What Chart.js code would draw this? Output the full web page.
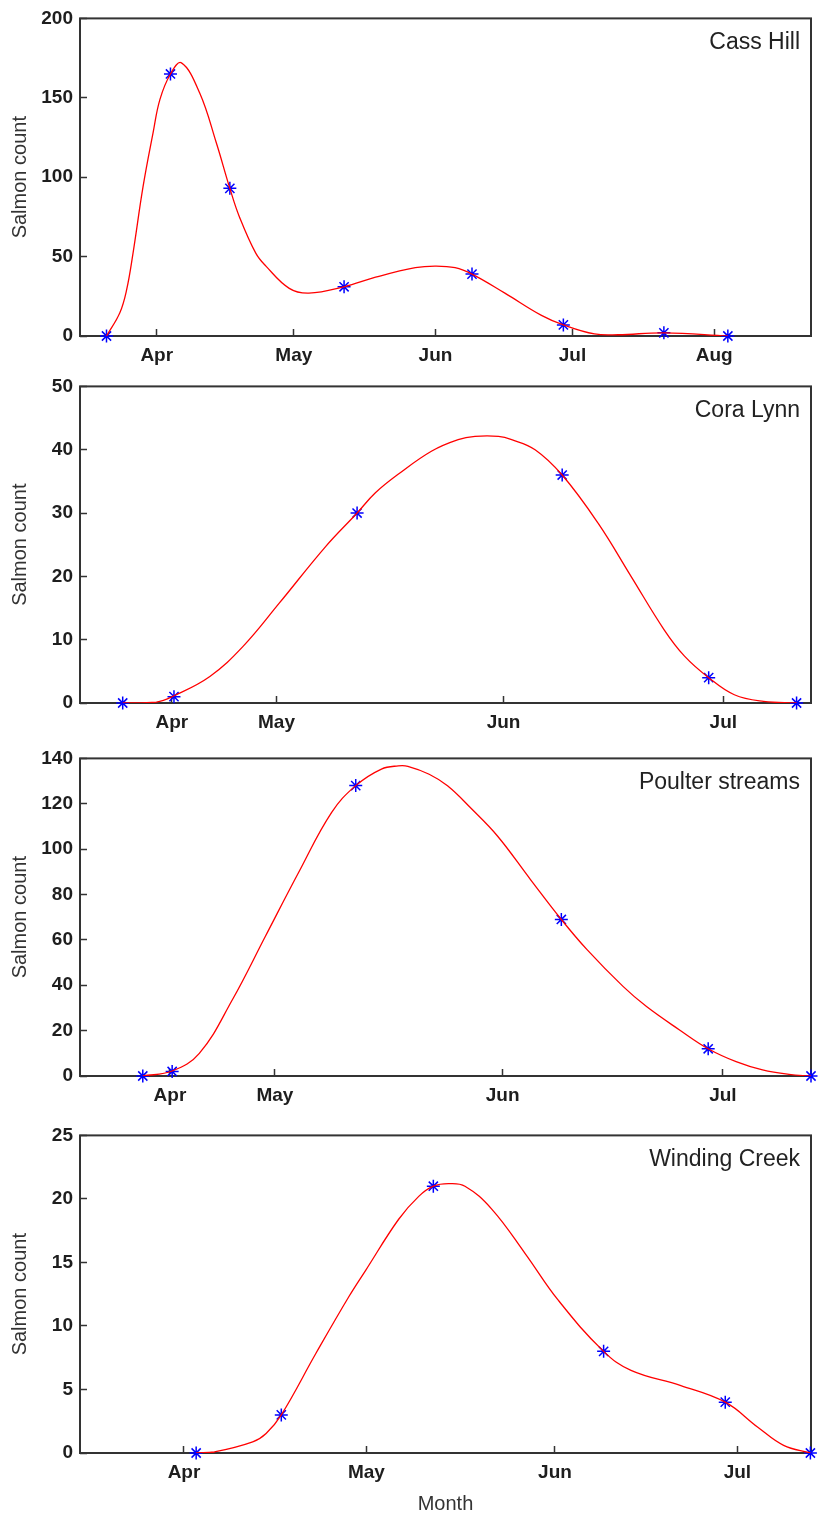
<!DOCTYPE html>
<html>
<head>
<meta charset="utf-8">
<script src="https://cdn.jsdelivr.net/npm/chart.js@4.4.0/dist/chart.umd.min.js"></script>
<style>
  body { margin: 0; background: #fff; }
  #wrap { position: relative; width: 819px; height: 1516px; overflow: hidden; }
  #wrap canvas { position: absolute; left: 0; }
</style>
</head>
<body>
<div id="wrap"></div>
<script>
// x values are day of year (1 Jan = 0, 1 Apr = 90)
var siteNames = ['Cass Hill', 'Cora Lynn', 'Poulter streams', 'Winding Creek'];

// Cass Hill - observed counts
var cassDays   = [79, 93, 106, 131, 159, 179, 201, 215];
var cassCounts = [0, 165, 93, 31, 39, 7, 2, 0];
// Cass Hill - fitted curve
var cassCurveDays   = [79, 81.9, 83.4, 84.8, 87, 89.2, 90.7, 93, 95.4, 99.4, 103, 106, 108.1, 111.7, 113.9, 119, 123.3, 131, 137.9, 146.6, 150.9, 155.3, 159, 166.2, 174.2, 179, 185.8, 191, 201, 215];
var cassCurveCounts = [0, 14.5, 29, 52, 94, 128, 149, 165, 172, 153, 122, 93, 75, 52, 44, 30, 27, 31, 37, 43, 44, 43, 39, 27, 13, 7, 1.3, 0.8, 2, 0];

// Cora Lynn
var coraDays   = [99, 106, 131, 159, 179, 191];
var coraCounts = [0, 1, 30, 36, 4, 0];
var coraCurveDays   = [99, 103.6, 106, 110.9, 115.4, 120.4, 126.7, 131, 133.5, 136.7, 141.2, 144.8, 147.1, 150.3, 152.1, 155.3, 159, 163.9, 168.4, 172.9, 175.7, 179, 182.5, 186.5, 191];
var coraCurveCounts = [0, 0.15, 1.15, 4.2, 8.9, 15.8, 24.7, 30, 33.2, 36.2, 39.8, 41.6, 42.1, 42.1, 41.6, 40, 36, 28.4, 20, 11.6, 7.4, 4, 1.3, 0.25, 0];

// Poulter streams
var poulterDays   = [102, 106, 131, 159, 179, 193];
var poulterCounts = [0, 2, 128, 69, 12, 0];
var poulterCurveDays   = [102, 106, 109.7, 114.2, 118.7, 123.2, 127.7, 131, 134.5, 136.8, 138.1, 141, 143.5, 146.7, 150.3, 154.8, 159, 162.5, 167.4, 170.6, 175.1, 179, 182.8, 186.4, 190, 193];
var poulterCurveCounts = [0, 2.2, 10, 33.6, 61.6, 89.6, 116.1, 128, 135.3, 136.7, 136.5, 133, 127.9, 118, 105.8, 86.6, 69, 55.7, 39.5, 30.6, 20.3, 12, 6.3, 2.65, 0.7, 0];

// Winding Creek
var windingDays   = [92, 106, 131, 159, 179, 193];
var windingCounts = [0, 3, 21, 8, 4, 0];
var windingCurveDays   = [92, 95, 101.3, 103.5, 106, 111.7, 117.1, 119.9, 125.3, 128.6, 131, 133.5, 136.2, 140.6, 146.1, 151.5, 159, 163.5, 171.7, 179, 184.3, 188.6, 193];
var windingCurveCounts = [0, 0.08, 0.87, 1.53, 3, 7.85, 12.3, 14.4, 18.4, 20.2, 21, 21.2, 21, 19.2, 15.7, 12.05, 8, 6.5, 5.3, 4, 2.05, 0.6, 0];

// month ticks
var cassTickDays = [90, 120, 151, 181, 212];
var cassTickLabels = ['Apr', 'May', 'Jun', 'Jul', 'Aug'];
var coraTickDays = [105.7, 120, 151, 181];
var poulterTickDays = [105.7, 120, 151, 181];
var windingTickDays = [90, 120, 151, 181];
var shortTickLabels = ['Apr', 'May', 'Jun', 'Jul'];

// axis ranges
var xRanges = [[73.2, 233.2], [93.17, 192.97], [93.45, 193], [72.9, 193.1]];
var yMax = [200, 50, 140, 25];
var yStep = [50, 10, 20, 5];

// panel layout (pixels)
var plotTop = [19, 387, 759, 1136];
var plotBottom = [336, 703, 1076, 1453];
var plotRight = [814, 814, 816, 814];
var xAxisH = [45, 45, 45, 63];
var padTop = 18;
var areaTop = 26;   // where chart.js ends up putting the plot top inside each canvas

var FONT = '"Liberation Sans", Arial, Helvetica, sans-serif';
var AXIS = '#333333';

function toXY(xs, ys) {
  var out = [];
  for (var i = 0; i < xs.length; i++) out.push({x: xs[i], y: ys[i]});
  return out;
}

// box round the plot and the site name in the top right corner
var boxAndLabel = {
  id: 'boxAndLabel',
  beforeDatasetsDraw: function(chart, args, opts) {
    var a = chart.chartArea, ctx = chart.ctx;
    ctx.save();
    ctx.strokeStyle = AXIS;
    ctx.lineWidth = 2;
    ctx.strokeRect(a.left, a.top, a.right - a.left, a.bottom - a.top);
    ctx.fillStyle = '#222';
    ctx.font = '23px ' + FONT;
    ctx.textAlign = 'right';
    ctx.textBaseline = 'alphabetic';
    ctx.fillText(opts.text, a.right - 11, a.top + 31);
    ctx.restore();
  }
};

var wrap = document.getElementById('wrap');

function makePanel(i, obsX, obsY, curveX, curveY, tickDays, tickLabels) {
  var canvas = document.createElement('canvas');
  var h = (plotBottom[i] - plotTop[i]) + areaTop + xAxisH[i];
  canvas.width = 819;
  canvas.height = h;
  canvas.style.width = '819px';
  canvas.style.height = h + 'px';
  canvas.style.top = (plotTop[i] - areaTop) + 'px';
  wrap.appendChild(canvas);

  var isLast = (i === 3);

  new Chart(canvas.getContext('2d'), {
    type: 'line',
    data: {
      datasets: [
        {
          data: toXY(curveX, curveY),
          borderColor: '#ff0000',
          borderWidth: 1.3,
          pointRadius: 0,
          tension: 0.4,
          fill: false,
          order: 0
        },
        {
          data: toXY(obsX, obsY),
          showLine: false,
          pointStyle: 'star',
          pointRadius: 6.5,
          borderColor: '#0000ff',
          backgroundColor: '#0000ff',
          borderWidth: 1.5,
          clip: false,
          order: 1
        }
      ]
    },
    options: {
      responsive: false,
      animation: false,
      layout: { padding: { top: padTop, right: 819 - plotRight[i], left: 0, bottom: 0 } },
      plugins: {
        legend: { display: false },
        tooltip: { enabled: false },
        boxAndLabel: { text: siteNames[i] }
      },
      scales: {
        x: {
          type: 'linear',
          min: xRanges[i][0],
          max: xRanges[i][1],
          afterBuildTicks: function(scale) {
            scale.ticks = tickDays.map(function(d) { return {value: d}; });
          },
          afterFit: function(scale) { scale.height = xAxisH[i]; },
          grid: { drawOnChartArea: false, drawTicks: true, tickLength: -7, tickWidth: 1.5, tickColor: AXIS },
          border: { display: false },
          ticks: {
            autoSkip: false,
            maxRotation: 0,
            padding: 15,
            color: '#1e1e1e',
            font: { family: FONT, size: 19, weight: 'bold' },
            callback: function(v) {
              var k = tickDays.indexOf(v);
              return k >= 0 ? tickLabels[k] : '';
            }
          },
          title: {
            display: isLast,
            text: 'Month',
            color: AXIS,
            font: { family: FONT, size: 20 },
            padding: { top: 0, bottom: 0 }
          }
        },
        y: {
          min: 0,
          max: yMax[i],
          afterFit: function(scale) { scale.width = 80; },
          grid: { drawOnChartArea: false, drawTicks: true, tickLength: -7, tickWidth: 1.5, tickColor: AXIS },
          border: { display: false },
          ticks: {
            stepSize: yStep[i],
            padding: 14,
            color: '#1e1e1e',
            font: { family: FONT, size: 19, weight: 'bold' }
          },
          title: {
            display: true,
            text: 'Salmon count',
            color: AXIS,
            font: { family: FONT, size: 20 },
            padding: { top: 8, bottom: 0 }
          }
        }
      }
    },
    plugins: [boxAndLabel]
  });
}

makePanel(0, cassDays, cassCounts, cassCurveDays, cassCurveCounts, cassTickDays, cassTickLabels);
makePanel(1, coraDays, coraCounts, coraCurveDays, coraCurveCounts, coraTickDays, shortTickLabels);
makePanel(2, poulterDays, poulterCounts, poulterCurveDays, poulterCurveCounts, poulterTickDays, shortTickLabels);
makePanel(3, windingDays, windingCounts, windingCurveDays, windingCurveCounts, windingTickDays, shortTickLabels);
</script>
</body>
</html>
